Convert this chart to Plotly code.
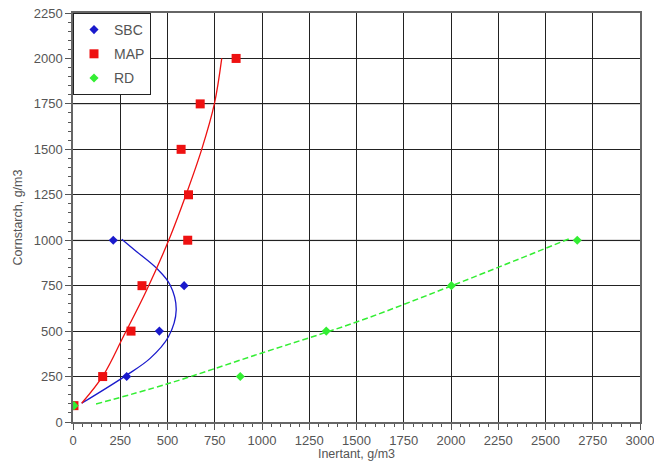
import plotly.graph_objects as go

# ---- data ----
sbc_x = [5, 284, 457, 588, 213]
sbc_y = [90, 250, 500, 750, 1000]
map_x = [5, 157, 307, 365, 607, 611, 572, 673, 863]
map_y = [90, 250, 500, 750, 1000, 1250, 1500, 1750, 2000]
rd_x = [5, 885, 1340, 2002, 2668]
rd_y = [90, 250, 500, 750, 1000]

# fitted trend curves
sbc_fit_x = [46, 284, 408, 505, 546, 514, 443, 337, 258]
sbc_fit_y = [103, 258, 350, 469, 616, 754, 845, 937, 1005]
map_fit_x = [46, 161, 266, 390, 514, 598, 681, 748, 787]
map_fit_y = [103, 258, 469, 726, 1019, 1250, 1500, 1750, 2000]
rd_fit_x = [122, 500, 1000, 1500, 2000, 2623]
rd_fit_y = [99, 210, 380, 550, 748, 1007]

x_ticks = list(range(0, 3001, 250))
y_ticks = list(range(0, 2251, 250))
light_grid_y = [1000, 1750]

BLUE = "#1a1acc"
RED = "#ee1111"
GREEN = "#33ee33"

fig = go.Figure()

# fit curves
fig.add_trace(go.Scatter(x=sbc_fit_x, y=sbc_fit_y, mode="lines", line=dict(color=BLUE, width=1.3, shape="spline"),
                         showlegend=False, hoverinfo="skip"))
fig.add_trace(go.Scatter(x=map_fit_x, y=map_fit_y, mode="lines", line=dict(color=RED, width=1.3, shape="spline"),
                         showlegend=False, hoverinfo="skip"))
fig.add_trace(go.Scatter(x=rd_fit_x, y=rd_fit_y, mode="lines", line=dict(color=GREEN, width=1.5, shape="spline", dash="6px,3px"),
                         showlegend=False, hoverinfo="skip"))

# data points
fig.add_trace(go.Scatter(x=sbc_x, y=sbc_y, mode="markers", name="SBC", legendgroup="a",
                         marker=dict(symbol="diamond", size=7, color=BLUE)))
fig.add_trace(go.Scatter(x=map_x, y=map_y, mode="markers", name="MAP", legendgroup="b",
                         marker=dict(symbol="square", size=9, color=RED)))
fig.add_trace(go.Scatter(x=rd_x, y=rd_y, mode="markers", name="RD", legendgroup="c",
                         marker=dict(symbol="diamond", size=7, color=GREEN)))

# light horizontal grid lines
for yv in light_grid_y:
    fig.add_shape(type="line", xref="paper", yref="y", x0=0, x1=1, y0=yv, y1=yv,
                  line=dict(color="#d4d4d4", width=2), layer="below")

tickfont = dict(family="Arial", size=13, color="#555555")

fig.update_layout(
    width=654, height=461,
    margin=dict(l=73, r=14, t=13, b=39, autoexpand=False),
    paper_bgcolor="white", plot_bgcolor="white",
    font=dict(family="Arial", size=12, color="#555555"),
    showlegend=True,
    legend=dict(x=0, y=1, xanchor="left", yanchor="top", bgcolor="white",
                bordercolor="#222222", borderwidth=1, traceorder="grouped",
                tracegroupgap=3, font=dict(family="Arial", size=14, color="#555555")),
    xaxis=dict(range=[0, 3000], tickvals=x_ticks, ticks="outside", ticklen=6, tickcolor="#555555",
               showgrid=True, gridcolor="#222222", gridwidth=1.2, zeroline=False, automargin=False,
               ticklabeloverflow="allow",
               showline=True, linecolor="#666666", linewidth=1.5, mirror=True,
               tickfont=tickfont,
               minor=dict(dtick=50, ticks="outside", ticklen=3, tickcolor="#555555", showgrid=False),
               title=dict(text="Inertant, g/m3", font=dict(family="Arial", size=12.5, color="#555555"), standoff=0)),
    yaxis=dict(range=[0, 2250], tickvals=y_ticks, ticks="outside", ticklen=6, tickcolor="#555555",
               showgrid=True, gridcolor="#222222", gridwidth=1.2, zeroline=False, automargin=False,
               ticklabeloverflow="allow",
               showline=True, linecolor="#666666", linewidth=1.5, mirror=True,
               tickfont=tickfont,
               minor=dict(dtick=50, ticks="outside", ticklen=3, tickcolor="#555555", showgrid=False),
               title=dict(text="Cornstarch, g/m3", font=dict(family="Arial", size=12.5, color="#555555"), standoff=8)),
)

fig.write_html("out.html", config={"displayModeBar": False},
               post_script="document.body.style.margin='0px';")
